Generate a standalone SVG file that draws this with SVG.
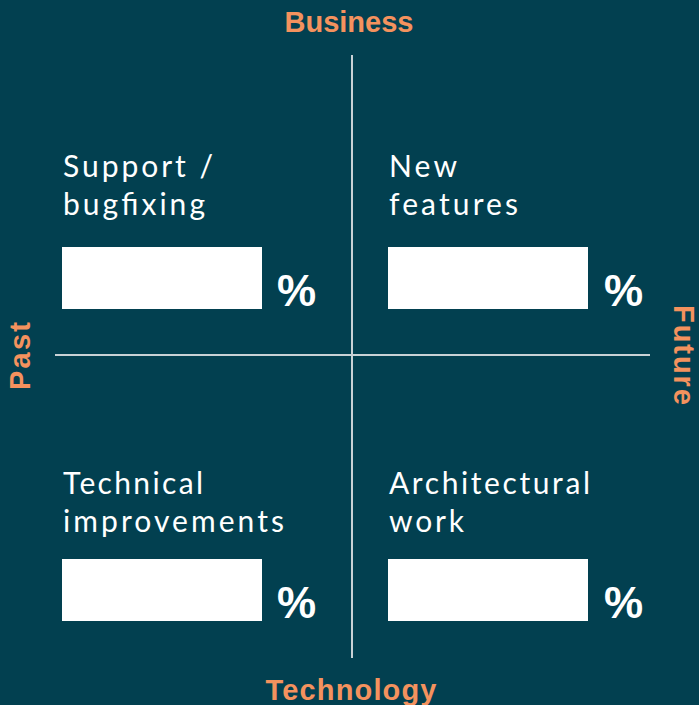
<svg xmlns="http://www.w3.org/2000/svg" width="699" height="705" viewBox="0 0 699 705">
<style>
.axis{font-family:"Liberation Sans",Arial,sans-serif;font-weight:bold;font-size:29px;fill:#F4925E}
.lbl{font-family:Lato,"Liberation Sans",sans-serif;font-size:30px;fill:#ffffff}
.pct{font-family:"Liberation Sans",Arial,sans-serif;font-weight:bold;font-size:44px;fill:#ffffff}
.box{fill:#ffffff}
.line{stroke:#c9d2d6;stroke-width:2}
</style>
<rect width="699" height="705" fill="#024050"/>
<g id="connectors">
<line class="line" x1="352" y1="55" x2="352" y2="658"/>
<line class="line" x1="55" y1="355" x2="650" y2="355"/>
</g>
<g id="axis-business"><text class="axis" x="349" y="32" text-anchor="middle" textLength="129">Business</text></g>
<g id="axis-technology"><text class="axis" x="351" y="700" text-anchor="middle" textLength="171">Technology</text></g>
<g id="axis-past"><text class="axis" transform="translate(30,356) rotate(-90)" text-anchor="middle" textLength="68">Past</text></g>
<g id="axis-future"><text class="axis" transform="translate(674,355) rotate(90)" text-anchor="middle" textLength="100">Future</text></g>
<g id="support">
<text class="lbl" x="63" y="177" textLength="150">Support /</text>
<text class="lbl" x="63" y="215" textLength="142">bugfixing</text>
<rect class="box" x="62" y="247" width="200" height="62"/>
<text class="pct" x="277" y="306">%</text>
</g>
<g id="features">
<text class="lbl" x="389" y="177" textLength="68">New</text>
<text class="lbl" x="389" y="215" textLength="129">features</text>
<rect class="box" x="388" y="247" width="200" height="62"/>
<text class="pct" x="604" y="306">%</text>
</g>
<g id="technical">
<text class="lbl" x="63" y="494" textLength="140">Technical</text>
<text class="lbl" x="63" y="532" textLength="221">improvements</text>
<rect class="box" x="62" y="559" width="200" height="62"/>
<text class="pct" x="277" y="618">%</text>
</g>
<g id="architectural">
<text class="lbl" x="389" y="494" textLength="201">Architectural</text>
<text class="lbl" x="389" y="532" textLength="75">work</text>
<rect class="box" x="388" y="559" width="200" height="62"/>
<text class="pct" x="604" y="618">%</text>
</g>
</svg>
